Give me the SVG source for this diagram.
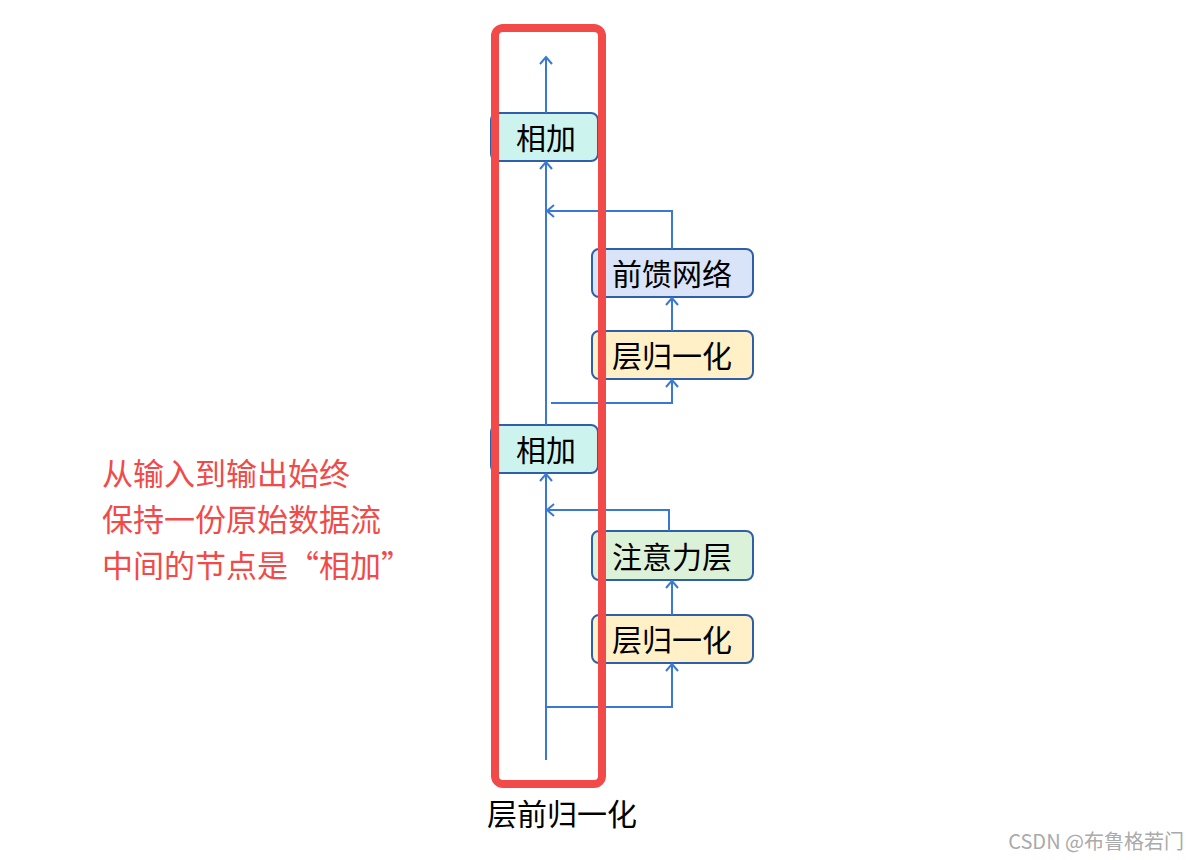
<svg xmlns="http://www.w3.org/2000/svg" width="1188" height="860" viewBox="0 0 1188 860">
<style>
text{font-family:"Noto Sans CJK SC","Liberation Sans",sans-serif}
.n{stroke:#2f5fa8;stroke-width:2}
.t{font-size:30px;fill:#000;text-anchor:middle;dominant-baseline:central}
.c{fill:none;stroke:#3a78d4;stroke-width:2}
.r{font-size:31px;fill:#f24a48}
</style>
<defs><marker id="a" markerWidth="16" markerHeight="16" refX="8" refY="8" orient="auto" markerUnits="userSpaceOnUse"><path d="M1,2 L8,8 L1,14" fill="none" stroke="#3a78d4" stroke-width="2"/></marker></defs>
<rect width="1188" height="860" fill="#fff"/>
<g id="add2"><rect class="n" x="491" y="113" width="107" height="48" rx="7" fill="#cdf3ef"/><text class="t" x="546" y="136">相加</text></g>
<g id="ffn"><rect class="n" x="592" y="249" width="161" height="48" rx="7" fill="#d9e4f8"/><text class="t" x="672" y="272">前馈网络</text></g>
<g id="ln2"><rect class="n" x="592" y="331" width="161" height="48" rx="7" fill="#fff0c8"/><text class="t" x="672" y="354">层归一化</text></g>
<g id="add1"><rect class="n" x="491" y="425" width="107" height="48" rx="7" fill="#cdf3ef"/><text class="t" x="546" y="448">相加</text></g>
<g id="attn"><rect class="n" x="592" y="531" width="161" height="49" rx="7" fill="#dcf2d8"/><text class="t" x="672" y="555">注意力层</text></g>
<g id="ln1"><rect class="n" x="592" y="615" width="161" height="48" rx="7" fill="#fff0c8"/><text class="t" x="672" y="638">层归一化</text></g>
<g id="connectors">
<path class="c" d="M546,760 V474" marker-end="url(#a)"/>
<path class="c" d="M546,707 H672 V664" marker-end="url(#a)"/>
<path class="c" d="M672,615 V581" marker-end="url(#a)"/>
<path class="c" d="M669,531 V510 H547" marker-end="url(#a)"/>
<path class="c" d="M546,425 V162" marker-end="url(#a)"/>
<path class="c" d="M551,403 H672 V380" marker-end="url(#a)"/>
<path class="c" d="M672,331 V298" marker-end="url(#a)"/>
<path class="c" d="M672,249 V211 H547" marker-end="url(#a)"/>
<path class="c" d="M546,113 V57" marker-end="url(#a)"/>
</g>
<rect x="495" y="28" width="107" height="756" rx="8" fill="none" stroke="#f24a48" stroke-width="8"/>
<text class="r" x="102" y="485">从输入到输出始终</text>
<text class="r" x="102" y="531">保持一份原始数据流</text>
<text class="r" x="102" y="577">中间的节点是“相加”</text>
<text x="562" y="825" font-size="30" text-anchor="middle" fill="#000">层前归一化</text>
<text x="1184" y="849" font-size="20" text-anchor="end" fill="#aaa">CSDN @布鲁格若门</text>
</svg>
